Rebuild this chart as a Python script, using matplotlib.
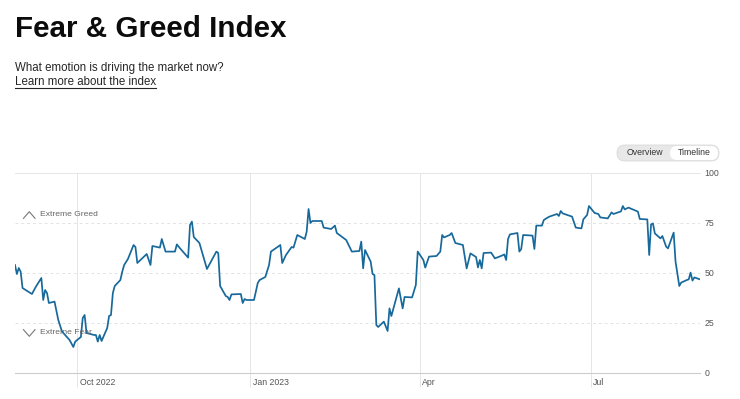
import matplotlib
matplotlib.use("Agg")
import matplotlib.pyplot as plt
import matplotlib.transforms as mtrans
from matplotlib.patches import FancyBboxPatch
from matplotlib.lines import Line2D
import pandas as pd

plt.rcParams['font.family'] = ['Liberation Sans', 'DejaVu Sans']

# fear & greed readings
dates = [
    "2022-08-29", "2022-08-30", "2022-08-31", "2022-09-01", "2022-09-02", "2022-09-07",
    "2022-09-09", "2022-09-12", "2022-09-13", "2022-09-14", "2022-09-15", "2022-09-16",
    "2022-09-19", "2022-09-21", "2022-09-23", "2022-09-26", "2022-09-27", "2022-09-29",
    "2022-09-30", "2022-10-03", "2022-10-04", "2022-10-05", "2022-10-06", "2022-10-10",
    "2022-10-11", "2022-10-12", "2022-10-13", "2022-10-14", "2022-10-17", "2022-10-18",
    "2022-10-19", "2022-10-20", "2022-10-21", "2022-10-24", "2022-10-25", "2022-10-26",
    "2022-10-28", "2022-10-31", "2022-11-01", "2022-11-02", "2022-11-07", "2022-11-09",
    "2022-11-10", "2022-11-14", "2022-11-15", "2022-11-17", "2022-11-22", "2022-11-23",
    "2022-11-25", "2022-11-29", "2022-11-30", "2022-12-01", "2022-12-02", "2022-12-05",
    "2022-12-09", "2022-12-14", "2022-12-15", "2022-12-16", "2022-12-19", "2022-12-20",
    "2022-12-21", "2022-12-22", "2022-12-27", "2022-12-28", "2022-12-29", "2022-12-30",
    "2023-01-03", "2023-01-05", "2023-01-06", "2023-01-09", "2023-01-11", "2023-01-12",
    "2023-01-17", "2023-01-18", "2023-01-20", "2023-01-23", "2023-01-24", "2023-01-26",
    "2023-01-30", "2023-01-31", "2023-02-01", "2023-02-02", "2023-02-03", "2023-02-08",
    "2023-02-09", "2023-02-13", "2023-02-15", "2023-02-16", "2023-02-21", "2023-02-24",
    "2023-02-28", "2023-03-01", "2023-03-02", "2023-03-03", "2023-03-06", "2023-03-07",
    "2023-03-08", "2023-03-09", "2023-03-10", "2023-03-13", "2023-03-15", "2023-03-16",
    "2023-03-17", "2023-03-21", "2023-03-23", "2023-03-24", "2023-03-28", "2023-03-30",
    "2023-03-31", "2023-04-03", "2023-04-04", "2023-04-06", "2023-04-10", "2023-04-12",
    "2023-04-13", "2023-04-14", "2023-04-17", "2023-04-18", "2023-04-20", "2023-04-24",
    "2023-04-26", "2023-04-28", "2023-05-01", "2023-05-02", "2023-05-03", "2023-05-04",
    "2023-05-05", "2023-05-09", "2023-05-11", "2023-05-15", "2023-05-16", "2023-05-17",
    "2023-05-18", "2023-05-19", "2023-05-23", "2023-05-24", "2023-05-25", "2023-05-26",
    "2023-05-31", "2023-06-01", "2023-06-02", "2023-06-05", "2023-06-06", "2023-06-08",
    "2023-06-09", "2023-06-13", "2023-06-14", "2023-06-15", "2023-06-16", "2023-06-21",
    "2023-06-23", "2023-06-26", "2023-06-27", "2023-06-29", "2023-06-30", "2023-07-03",
    "2023-07-05", "2023-07-06", "2023-07-10", "2023-07-12", "2023-07-13", "2023-07-17",
    "2023-07-18", "2023-07-19", "2023-07-21", "2023-07-26", "2023-07-27", "2023-07-31",
    "2023-08-01", "2023-08-02", "2023-08-03", "2023-08-04", "2023-08-07", "2023-08-08",
    "2023-08-10", "2023-08-11", "2023-08-14", "2023-08-15", "2023-08-17", "2023-08-18",
    "2023-08-21", "2023-08-22", "2023-08-23", "2023-08-24", "2023-08-25", "2023-08-28",
]
values = [
    54, 49.5, 52.5, 50.7, 42.5, 39.5,
    43, 47.5, 36.5, 41.5, 40, 35,
    35.7, 26.5, 20.7, 17.5, 16.5, 13,
    15.7, 18, 27.5, 29, 20, 19,
    19, 15.7, 19, 16, 22.5, 28.5,
    29, 40, 43.5, 46.5, 50.7, 54,
    57, 64, 63, 55, 59.5, 54,
    63.5, 62.7, 67, 60.7, 60.7, 64.3,
    62, 57.7, 74, 75.7, 68, 65,
    52, 60.7, 60, 43.5, 38.5, 38,
    36.5, 39.3, 39.5, 35, 37, 36.5,
    36.5, 45, 46.5, 48, 54, 60.7,
    64, 55, 59, 63, 62.7, 69,
    67, 70.7, 82, 75, 76, 76,
    72.7, 72, 73.7, 70, 66.5, 60.7,
    61, 65.7, 52.3, 61.5, 55.7, 49.5,
    49, 24, 23, 25.7, 21, 32.3,
    28.5, 42.3, 32.3, 38, 37.8, 44,
    60.7, 56.5, 52.7, 58.2, 58.5, 60.7,
    69, 67.8, 69, 70, 65, 64,
    52.3, 59.8, 58, 52.8, 56.5, 52.3,
    60, 60.2, 57.3, 58.8, 59.3, 56.5,
    67, 69.3, 70, 60.7, 62, 69,
    68.7, 62, 73.7, 73.7, 76.5, 77.7,
    78.2, 79.5, 78.5, 81, 79.8, 78.2,
    72.7, 72.3, 76.8, 79, 83.5, 80,
    79.5, 77.8, 77.3, 80.3, 79.5, 80.8,
    83.5, 81.8, 82.7, 80.7, 77, 76.8,
    59, 74.3, 74.8, 69.8, 67.3, 68.5,
    63.2, 62.3, 70.2, 55.7, 43.5, 45.2,
    46.5, 46.8, 50.2, 46.2, 47.8, 46.8,
]

month_ticks = ["2022-10-01", "2023-01-01", "2023-04-01", "2023-07-01"]
month_labels = ["Oct 2022", "Jan 2023", "Apr", "Jul"]
y_ticks = [0, 25, 50, 75, 100]

x = pd.to_datetime(dates)

W, H = 740, 399
fig = plt.figure(figsize=(W / 100, H / 100), dpi=100)
fig.patch.set_facecolor("white")

# header
fig.text(15 / W, 1 - 37 / H, "Fear & Greed Index", fontsize=21.3, fontweight="bold",
         color="#0c0c0c", va="baseline", ha="left")
fig.text(15 / W, 1 - 71 / H, "What emotion is driving the market now?", fontsize=8.3,
         color="#262626", va="baseline", ha="left")
fig.text(15 / W, 1 - 85 / H, "Learn more about the index", fontsize=8.3,
         color="#262626", va="baseline", ha="left")
fig.add_artist(Line2D([15 / W, 155.5 / W], [1 - 87.5 / H, 1 - 87.5 / H],
                      transform=fig.transFigure, color="#262626", lw=0.8))

# overview / timeline toggle
fig.add_artist(FancyBboxPatch((617 / W, 1 - 161 / H), 102 / W, 16 / H,
                              boxstyle="round,pad=0,rounding_size=%f" % (8 / W),
                              transform=fig.transFigure, fc="#e8e8e8", ec="#d9d9d9", lw=0.6,
                              mutation_aspect=W / H))
fig.add_artist(FancyBboxPatch((670 / W, 1 - 160 / H), 48 / W, 14 / H,
                              boxstyle="round,pad=0,rounding_size=%f" % (7 / W),
                              transform=fig.transFigure, fc="white", ec="none",
                              mutation_aspect=W / H))
fig.text(644.5 / W, 1 - 153 / H, "Overview", fontsize=6.3, color="#333333", ha="center", va="center")
fig.text(694 / W, 1 - 153 / H, "Timeline", fontsize=6.3, color="#333333", ha="center", va="center")

# chart
ax = fig.add_axes([15 / W, 26 / H, 685 / W, 200 / H])
ax.plot(x, values, color="#17699b", lw=1.25, solid_joinstyle="round", zorder=3)

ax.set_xlim(pd.Timestamp("2022-08-29"), pd.Timestamp("2023-08-28"))
ax.set_ylim(0, 100)

for s in ["top", "left", "right"]:
    ax.spines[s].set_visible(False)
ax.spines["bottom"].set_color("#cccccc")
ax.spines["bottom"].set_linewidth(0.8)

for v in y_ticks[1:]:
    if v == 100:
        ax.axhline(v, color="#e6e6e6", lw=0.7, zorder=1, clip_on=False)
    else:
        ax.axhline(v, color="#e3e3e3", lw=0.7, ls=(0, (3, 3)), zorder=1)

ax.yaxis.tick_right()
ax.set_yticks(y_ticks)
ax.set_yticklabels([str(v) for v in y_ticks])
ax.tick_params(axis="y", length=0, pad=3, labelsize=6.3, labelcolor="#555555")

ax.set_xticks(pd.to_datetime(month_ticks))
ax.set_xticklabels(month_labels)
ax.tick_params(axis="x", direction="out", length=10, width=0.7, color="#e6e6e6",
               pad=-6.5, labelsize=6.3, labelcolor="#555555")
ax.grid(axis="x", color="#e6e6e6", lw=0.7, zorder=0)
offset = mtrans.ScaledTranslation(2.5 / 100, 0, fig.dpi_scale_trans)
for lab in ax.get_xticklabels():
    lab.set_horizontalalignment("left")
    lab.set_transform(lab.get_transform() + offset)

# zone labels
ax.text(25 / 685, 79, "Extreme Greed", transform=ax.get_yaxis_transform(),
        fontsize=6.1, color="#666666", va="center", ha="left")
ax.text(25 / 685, 20, "Extreme Fear", transform=ax.get_yaxis_transform(),
        fontsize=6.1, color="#666666", va="center", ha="left")
# chevrons
for y_mid, up in [(215, True), (333, False)]:
    y_lo = 1 - (y_mid + 3.3) / H
    y_hi = 1 - (y_mid - 3.3) / H
    xs = [23.5 / W, 29.3 / W, 35 / W]
    ys = [y_lo, y_hi, y_lo] if up else [y_hi, y_lo, y_hi]
    fig.add_artist(Line2D(xs, ys, transform=fig.transFigure, color="#777777", lw=0.8))

fig.savefig("out.png", dpi=100, facecolor="white")
